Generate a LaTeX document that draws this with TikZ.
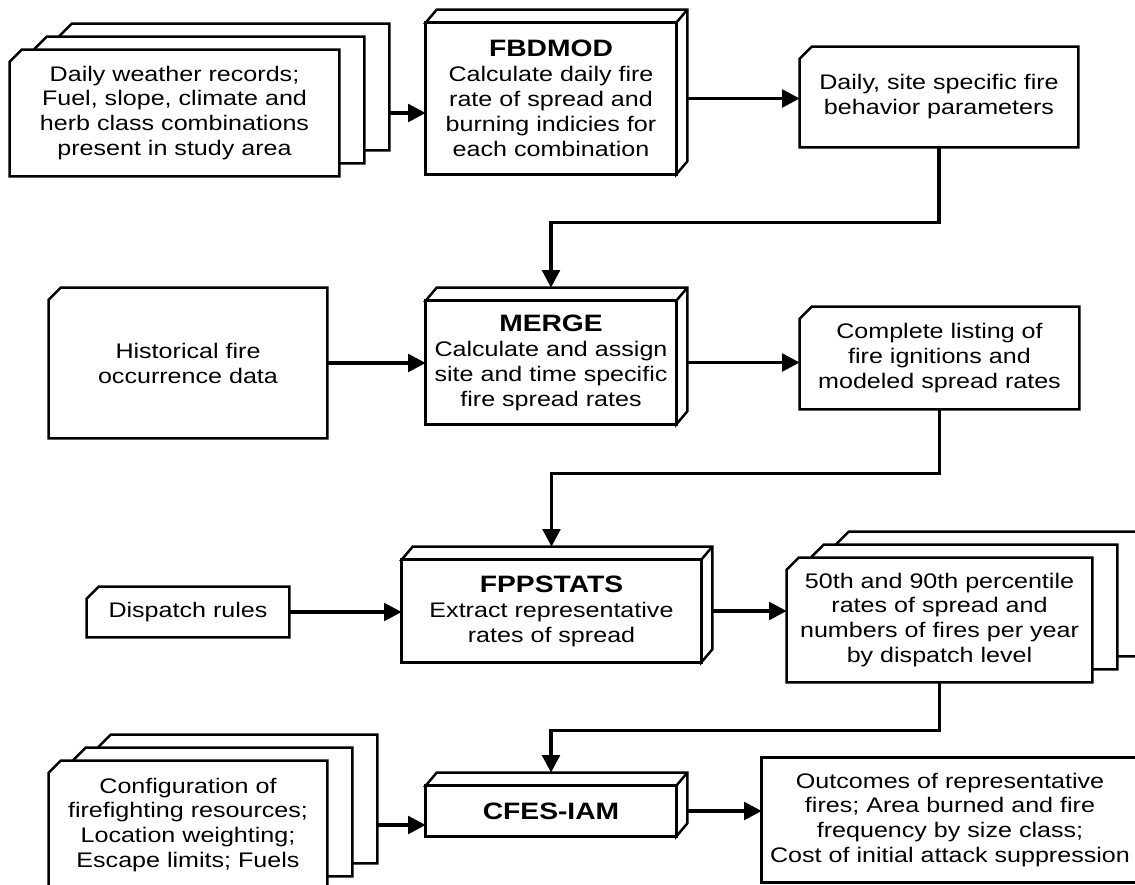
\documentclass[tikz,border=0pt]{standalone}
\usepackage{fontspec}
\setmainfont{Liberation Sans}[FakeStretch=1.19]
\usetikzlibrary{arrows.meta,backgrounds}

\tikzset{
  outline/.style={draw=black, line width=1.4pt, fill=white, line join=miter},
  txt/.style={inner sep=0pt, align=center, font=\fontsize{12}{14.2}\selectfont},
  flow/.style={line width=2pt, -{Triangle[length=10pt,width=10pt]}},
}
\newcommand\ttl[1]{{\bfseries\fontsize{13.5}{14.8}\selectfont #1}}

% chamfered record sheet round node #1, moved by #2
\newcommand\sheet[2]{%
  \draw[outline] ([shift={#2}]#1.north west) ++(0,12) -- ++(12,-12)
    -- ([shift={#2}]#1.north east) -- ([shift={#2}]#1.south east)
    -- ([shift={#2}]#1.south west) -- cycle;}
% program box with top and side faces
\newcommand\slab[1]{%
  \draw[outline] (#1.north west) -- ++(11,-13) -- ([shift={(11,-13)}]#1.north east)
    -- ([shift={(11,-13)}]#1.south east) -- (#1.south east) -- (#1.north east) -- cycle;
  \draw[outline] (#1.north east) -- ++(11,-13);
  \draw[outline] (#1.south west) rectangle (#1.north east);}

\begin{document}
\begin{tikzpicture}[x=0.02cm, y=-0.02cm]
  \useasboundingbox (0,0) rectangle (1135,885);

  % row 1
  \node[txt, minimum width=6.58cm, minimum height=2.52cm] (weather) at (174.5,113)
    {Daily weather records;\\Fuel, slope, climate and\\herb class combinations\\present in study area};
  \node[txt, minimum width=5cm, minimum height=3.02cm] (fbdmod) at (551,98.5)
    {\ttl{FBDMOD}\\Calculate daily fire\\rate of spread and\\burning indicies for\\each combination};
  \node[txt, minimum width=5.56cm, minimum height=2cm] (params) at (939,97)
    {Daily, site specific fire\\behavior parameters};

  % row 2
  \node[txt, minimum width=5.56cm, minimum height=3cm] (history) at (188,363)
    {Historical fire\\occurrence data};
  \node[txt, minimum width=5cm, minimum height=2.46cm] (merge) at (551,362.5)
    {\ttl{MERGE}\\Calculate and assign\\site and time specific\\fire spread rates};
  \node[txt, minimum width=5.58cm, minimum height=2.04cm] (listing) at (939.5,358)
    {Complete listing of\\fire ignitions and\\modeled spread rates};

  % row 3
  \node[txt, minimum width=4.04cm, minimum height=1cm] (dispatch) at (188,612)
    {Dispatch rules};
  \node[txt, minimum width=5.98cm, minimum height=2.04cm] (fppstats) at (551.5,611)
    {\ttl{FPPSTATS}\\Extract representative\\rates of spread};
  \node[txt, minimum width=6.1cm, minimum height=2.48cm] (pctile) at (939.5,620)
    {50th and 90th percentile\\rates of spread and\\numbers of fires per year\\by dispatch level};

  % row 4
  \node[txt, minimum width=5.56cm, minimum height=2.56cm] (config) at (188,825)
    {Configuration of\\firefighting resources;\\Location weighting;\\Escape limits; Fuels};
  \node[txt, minimum width=5cm, minimum height=1cm] (cfes) at (551,811)
    {\ttl{CFES-IAM}};
  \node[txt, minimum width=7.52cm, minimum height=2.48cm] (outcomes) at (950,820)
    {Outcomes of representative\\fires; Area burned and fire\\frequency by size class;\\Cost of initial attack suppression};

  % box outlines go behind the text
  \begin{pgfonlayer}{background}
    \fill[white] (0,0) rectangle (1135,885);
    \foreach \n in {weather,pctile,config}
      \foreach \d in {2,1,0} {\sheet{\n}{(25*\d,-13*\d)}}
    \foreach \n in {params,history,listing,dispatch} {\sheet{\n}{(0,0)}}
    \foreach \n in {fbdmod,merge,fppstats,cfes} {\slab{\n}}
    \draw[outline] (outcomes.south west) rectangle (outcomes.north east);
  \end{pgfonlayer}

  % connectors
  \draw[flow] ([shift={(50,0)}]weather.east) -- (weather.east -| fbdmod.west);
  \draw[flow] ([shift={(11,0)}]fbdmod.east) -- (fbdmod.east -| params.west);
  \draw[flow] (params.south) -- ++(0,75) -| ([shift={(0,-13)}]merge.north);
  \draw[flow] (history.east) -- (history.east -| merge.west);
  \draw[flow] ([shift={(11,0)}]merge.east) -- (merge.east -| listing.west);
  \draw[flow] (listing.south) -- ++(0,64) -| ([shift={(0,-13)}]fppstats.north);
  \draw[flow] (dispatch.east) -- (dispatch.east -| fppstats.west);
  \draw[flow] ([shift={(11,0)}]fppstats.east) -- (fppstats.east -| pctile.west);
  \draw[flow] (pctile.south) -- ++(0,48) -| ([shift={(0,-13)}]cfes.north);
  \draw[flow] ([shift={(50,0)}]config.east) -- (config.east -| cfes.west);
  \draw[flow] ([shift={(11,0)}]cfes.east) -- (cfes.east -| outcomes.west);
\end{tikzpicture}
\end{document}
